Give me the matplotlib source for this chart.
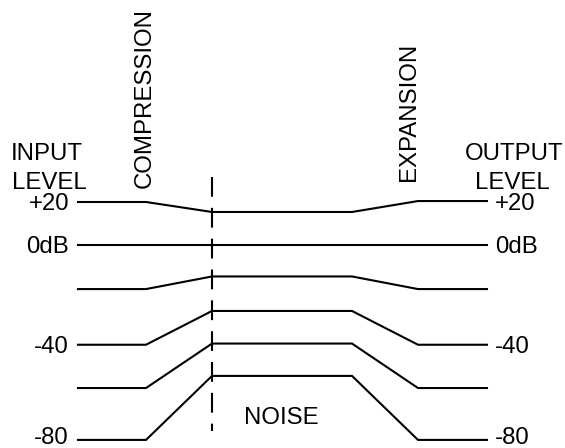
#
# compander level diagram
#
import matplotlib
matplotlib.use("Agg")
import matplotlib.pyplot as plt

plt.rcParams['font.family'] = ['Liberation Sans', 'DejaVu Sans']

# breakpoints along the signal path (input, compressor, channel, expander, output)
stage_x = [78, 146, 212, 352, 418, 487]

# levels in dB
input_level = [20, 2, -16.6, -40, -58.2, -80]
channel_level = [15.8, 2, -11.3, -25.8, -39.5, -53.1]
output_level = [20.4, 2, -16.6, -40, -58.2, -80]

left_labels = ['+20', '0dB', '', '-40', '', '-80']
right_labels = ['+20', '0dB', '', '-40', '', '-80']

W, H = 565, 448
fig = plt.figure(figsize=(W / 100, H / 100), dpi=100)
ax = fig.add_axes([0, 0, 1, 1])
ax.set_xlim(0, W)
ax.set_ylim(-83.4, 104.9)
ax.axis('off')

fs = 17.3

for i in range(len(input_level)):
    ys = [input_level[i], input_level[i], channel_level[i],
          channel_level[i], output_level[i], output_level[i]]
    ax.plot(stage_x, ys, color='black', lw=1.5, solid_joinstyle='miter')
    # bottom row sits on the page edge, lift it a touch
    dy = 3.3 if i == len(input_level) - 1 else 0
    if left_labels[i]:
        ax.annotate(left_labels[i], (69, input_level[i]), xytext=(0, dy),
                    textcoords='offset points', ha='right', va='center_baseline',
                    fontsize=fs)
    if right_labels[i]:
        ax.annotate(right_labels[i], (495, output_level[i]), xytext=(0, dy),
                    textcoords='offset points', ha='left', va='center_baseline',
                    fontsize=fs)

# dashed divider at the compressor output
ax.plot([stage_x[2], stage_x[2]], [30.6, -76.3], color='black', lw=1.5,
        dashes=(9.5, 5.3))

def px(x, y):
    return x / W, 1 - y / H

ax.text(*px(47, 152), 'INPUT', transform=ax.transAxes, ha='center', va='center_baseline', fontsize=fs)
ax.text(*px(49, 180), 'LEVEL', transform=ax.transAxes, ha='center', va='center_baseline', fontsize=fs)
ax.text(*px(514, 152), 'OUTPUT', transform=ax.transAxes, ha='center', va='center_baseline', fontsize=fs)
ax.text(*px(512, 180), 'LEVEL', transform=ax.transAxes, ha='center', va='center_baseline', fontsize=fs)
ax.text(*px(145, 188), 'COMPRESSION', transform=ax.transAxes, ha='center', va='bottom',
        rotation=90, fontsize=fs)
ax.text(*px(409, 181), 'EXPANSION', transform=ax.transAxes, ha='center', va='bottom',
        rotation=90, fontsize=fs)
ax.text(*px(281, 415), 'NOISE', transform=ax.transAxes, ha='center', va='center_baseline', fontsize=fs)

plt.savefig('out.png', dpi=100)
plt.close()
